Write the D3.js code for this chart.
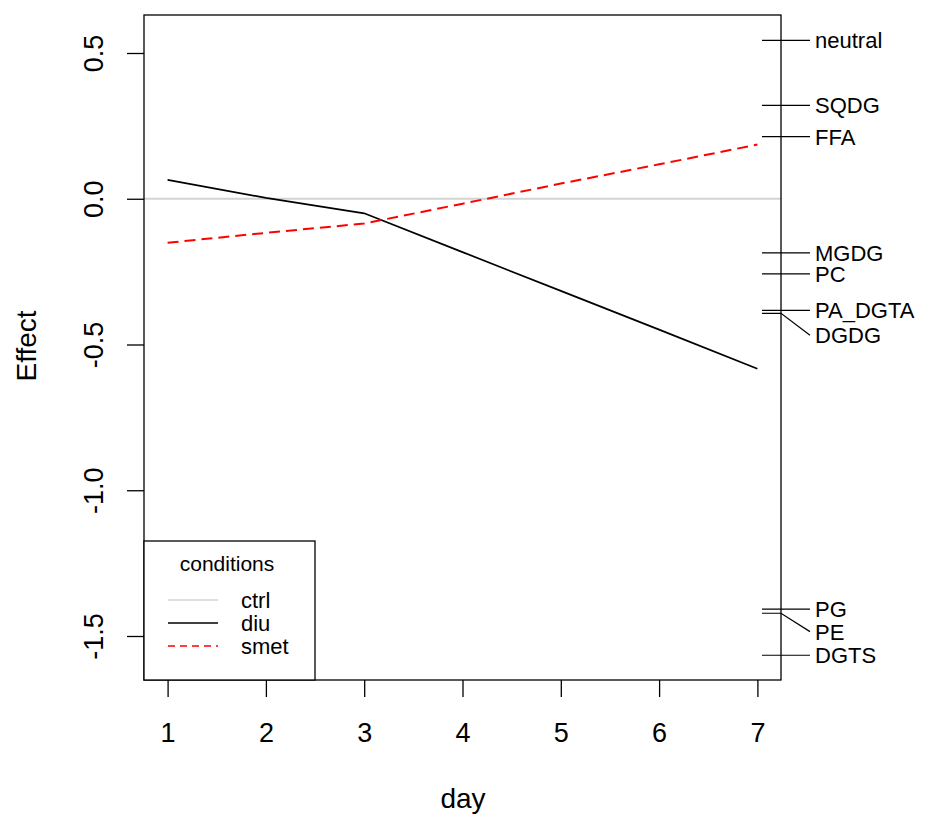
<!DOCTYPE html>
<html>
<head>
<meta charset="utf-8">
<script src="https://cdn.jsdelivr.net/npm/d3@7"></script>
<style>
  body { margin: 0; background: #fff; }
  svg { display: block; font-family: "Liberation Sans", Arial, sans-serif; }
</style>
</head>
<body>
<svg id="chart" width="925" height="816"></svg>
<script>
  // values
  const days = [1, 2, 3, 4, 5, 6, 7];
  const ctrl = [0, 0, 0, 0, 0, 0, 0];
  const diu = [0.065, 0.003, -0.05, -0.183, -0.316, -0.449, -0.583];
  const smet = [-0.151, -0.117, -0.085, -0.017, 0.052, 0.118, 0.186];

  const lipidNames = ['neutral', 'SQDG', 'FFA', 'MGDG', 'PC', 'PA_DGTA', 'DGDG', 'PG', 'PE', 'DGTS'];
  const lipidValues = [0.543, 0.32, 0.213, -0.186, -0.258, -0.383, -0.393, -1.408, -1.422, -1.566];
  // label offsets where labels would collide (text nudged down)
  const lipidLabelShift = [0, 0, 0, 0, 0, 0, 0.075, 0, 0.063, 0];

  const xTicks = [1, 2, 3, 4, 5, 6, 7];
  const yTicks = [0.5, 0.0, -0.5, -1.0, -1.5];

  const series = [
    {name: 'ctrl', values: ctrl, color: '#d3d3d3', dash: null},
    {name: 'diu', values: diu, color: '#000', dash: null},
    {name: 'smet', values: smet, color: '#ff0000', dash: '11,6'}
  ];

  const svg = d3.select('#chart');
  const box = {left: 144, right: 781, top: 15, bottom: 680};

  const x = d3.scaleLinear().domain([0.76, 7.24]).range([box.left, box.right]);
  const y = d3.scaleLinear().domain([-1.5, 0.5]).range([636, 53]);

  // ctrl baseline (abline across the plot)
  svg.append('line')
    .attr('x1', box.left).attr('x2', box.right)
    .attr('y1', y(0)).attr('y2', y(0))
    .attr('stroke', '#d3d3d3').attr('stroke-width', 2);

  const line = d3.line()
    .x((d, i) => x(days[i]))
    .y(d => y(d));

  series.slice(1).forEach(s => {
    svg.append('path')
      .attr('d', line(s.values))
      .attr('fill', 'none')
      .attr('stroke', s.color)
      .attr('stroke-width', s.dash ? 2 : 1.7)
      .attr('stroke-dasharray', s.dash);
  });

  // x axis
  const xAxis = svg.append('g').attr('transform', `translate(0,${box.bottom})`)
    .call(d3.axisBottom(x).tickValues(xTicks).tickSize(17).tickFormat(d3.format('d')));
  xAxis.select('.domain').remove();
  xAxis.selectAll('line').attr('stroke', '#000').attr('stroke-width', 1.3);
  xAxis.selectAll('text').attr('y', 62).attr('dy', 0).attr('font-size', 27).attr('fill', '#000')
    .attr('font-family', '"Liberation Sans", Arial, sans-serif');

  // y axis
  const yAxis = svg.append('g').attr('transform', `translate(${box.left},0)`)
    .call(d3.axisLeft(y).tickValues(yTicks).tickSize(17).tickFormat(d3.format('.1f')));
  yAxis.select('.domain').remove();
  yAxis.selectAll('line').attr('stroke', '#000').attr('stroke-width', 1.3);
  yAxis.selectAll('text').remove();
  yAxis.selectAll('.tick').append('text')
    .attr('transform', 'translate(-41,0) rotate(-90)')
    .attr('text-anchor', 'middle')
    .attr('font-size', 27)
    .attr('fill', '#000')
    .text(d => d3.format('.1f')(d).replace('−', '-'));

  // right-hand lipid markers
  const rg = svg.append('g');
  lipidNames.forEach((name, i) => {
    const v = lipidValues[i];
    const ly = y(v - lipidLabelShift[i]);
    rg.append('path')
      .attr('d', `M762,${y(v)}L781,${y(v)}L810,${ly}`)
      .attr('fill', 'none').attr('stroke', '#000').attr('stroke-width', 1.2);
    rg.append('text')
      .attr('x', 815).attr('y', ly).attr('dy', '0.36em')
      .attr('font-size', 22).attr('fill', '#000')
      .text(name);
  });

  // plot box
  svg.append('rect')
    .attr('x', box.left).attr('y', box.top)
    .attr('width', box.right - box.left).attr('height', box.bottom - box.top)
    .attr('fill', 'none').attr('stroke', '#000').attr('stroke-width', 1.3);

  // axis titles
  svg.append('text').attr('x', 463).attr('y', 808).attr('text-anchor', 'middle')
    .attr('font-size', 28).text('day');
  svg.append('text').attr('transform', 'translate(36,346) rotate(-90)')
    .attr('text-anchor', 'middle').attr('font-size', 28).text('Effect');

  // legend
  const lg = svg.append('g');
  lg.append('rect').attr('x', box.left).attr('y', 541).attr('width', 171).attr('height', box.bottom - 541)
    .attr('fill', '#fff').attr('stroke', '#000').attr('stroke-width', 1.3);
  lg.append('text').attr('x', 227).attr('y', 563).attr('dy', '0.36em').attr('text-anchor', 'middle')
    .attr('font-size', 21).text('conditions');
  series.forEach((s, i) => {
    const ry = 600 + i * 23;
    lg.append('line').attr('x1', 168).attr('x2', 218).attr('y1', ry).attr('y2', ry)
      .attr('stroke', s.color).attr('stroke-width', 1.7).attr('stroke-dasharray', s.dash ? '7,5' : null);
    lg.append('text').attr('x', 241).attr('y', ry).attr('dy', '0.36em')
      .attr('font-size', 22).text(s.name);
  });
</script>
</body>
</html>
